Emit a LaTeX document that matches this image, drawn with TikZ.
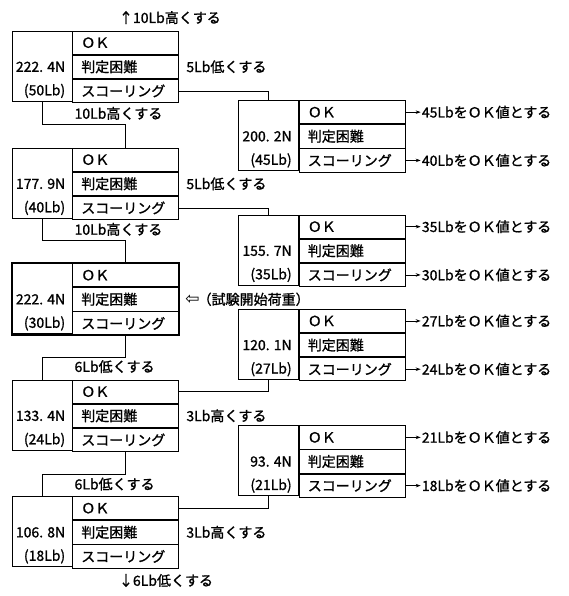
\documentclass[tikz,border=0pt]{standalone}
\usepackage{fontspec}
\setmainfont{Noto Sans CJK JP}[FakeBold=1.2]
\newfontfamily\arrowfont{DejaVu Sans}
\usetikzlibrary{positioning,calc,arrows.meta}

\tikzset{
	lcell/.style={draw, line width=0.8pt, minimum width=60pt, minimum height=70pt, inner sep=0pt},
	rcell/.style={draw, line width=0.8pt, anchor=north west, minimum width=106pt, minimum height=23.33pt,
		text width=89pt, inner xsep=8.5pt, inner ysep=0pt, align=left},
	wt/.style={inner sep=0pt, anchor=west},
	wire/.style={line width=0.8pt},
	okarrow/.style={line width=0.8pt, shorten >=1pt, -{Stealth[length=5pt,width=3.5pt]}}
}

% one load box: name, x, y, newton, pound
\newcommand{\loadbox}[5]{%
	\node[lcell] (#1) at (#2,#3) {};
	\node[rcell] (#1ok) at (#1.north east) {ＯＫ};
	\node[rcell, below=0pt of #1ok] (#1hd) {判定困難};
	\node[rcell, below=0pt of #1hd] (#1sc) {スコーリング};
	\node[anchor=east, inner sep=0pt] (#1n) at ([xshift=-7pt]#1hd.west) {#4};
	\node[anchor=east, inner sep=0pt] (#1l) at ([xshift=-7pt]#1sc.west) {#5};
}

\begin{document}
\begin{tikzpicture}[x=1pt, y=-1pt, font=\fontsize{14}{16}\selectfont]

		\useasboundingbox (0,0) rectangle (568,596);

		% Left column
		\loadbox{b50}{42}{66}{222. 4N}{(50Lb)}
		\loadbox{b40}{42}{183}{177. 9N}{(40Lb)}
		\loadbox{b30}{42}{298.5}{222. 4N}{(30Lb)}
		\loadbox{b24}{42}{415}{133. 4N}{(24Lb)}
		\loadbox{b18}{42}{531.5}{106. 8N}{(18Lb)}

		% Right column
		\loadbox{b45}{268.5}{135.5}{200. 2N}{(45Lb)}
		\loadbox{b35}{268.5}{250}{155. 7N}{(35Lb)}
		\loadbox{b27}{268.5}{344.3}{120. 1N}{(27Lb)}
		\loadbox{b21}{268.5}{460.7}{93. 4N}{(21Lb)}

		% Starting load
		\draw[line width=2pt] (b30.north west) rectangle (b30sc.south east);

		% Steps down the left column
		\draw[wire] (b50.south) |- ($(b50.south)!.5!(b40ok.north)$) -| (b40ok.north);
		\draw[wire] (b40.south) |- ($(b40.south)!.5!(b30ok.north)$) -| (b30ok.north);
		\draw[wire] (b30sc.south) |- ($(b30sc.south)!.5!(b24.north)$) -| (b24.north);
		\draw[wire] (b24sc.south) |- ($(b24sc.south)!.5!(b18.north)$) -| (b18.north);

		% Branches to the right column
		\draw[wire] (b50sc.east) -| (b45.north);
		\draw[wire] (b40sc.east) -| (b35.north);
		\draw[wire] (b24ok.east) -| (b27.south);
		\draw[wire] (b18ok.east) -| (b21.south);

		% Step labels
		\node[wt] (up) at ([shift={(-7,-13)}]b50ok.north) {↑10Lb高くする};
		\node[wt] (l10a) at ([shift={(2,12)}]b50.south east) {10Lb高くする};
		\node[wt] (l10b) at ([shift={(2,11)}]b40.south east) {10Lb高くする};
		\node[wt] (l6a) at ([shift={(2,-13)}]b24.north east) {6Lb低くする};
		\node[wt] (l6b) at ([shift={(2,-12)}]b18.north east) {6Lb低くする};
		\node[wt] (down) at ([shift={(-7,12)}]b18sc.south) {↓6Lb低くする};
		\node[wt] (l5a) at ([xshift=7pt]b50hd.east) {5Lb低くする};
		\node[wt] (l5b) at ([xshift=7pt]b40hd.east) {5Lb低くする};
		\node[wt] (start) at ([xshift=6pt]b30hd.east) {{\arrowfont\fontsize{17}{17}\selectfont ⇦}\kern-2pt（試験開始荷重）};
		\node[wt] (l3a) at ([xshift=7pt]b24hd.east) {3Lb高くする};
		\node[wt] (l3b) at ([xshift=7pt]b18hd.east) {3Lb高くする};

		% Results
		\node[wt] (r45) at ([xshift=16pt]b45ok.east) {45LbをＯＫ値とする};
		\node[wt] (r40) at ([xshift=16pt]b45sc.east) {40LbをＯＫ値とする};
		\node[wt] (r35) at ([xshift=16pt]b35ok.east) {35LbをＯＫ値とする};
		\node[wt] (r30) at ([xshift=16pt]b35sc.east) {30LbをＯＫ値とする};
		\node[wt] (r27) at ([xshift=16pt]b27ok.east) {27LbをＯＫ値とする};
		\node[wt] (r24) at ([xshift=16pt]b27sc.east) {24LbをＯＫ値とする};
		\node[wt] (r21) at ([xshift=16pt]b21ok.east) {21LbをＯＫ値とする};
		\node[wt] (r18) at ([xshift=16pt]b21sc.east) {18LbをＯＫ値とする};
		\foreach \a/\b in {b45ok/r45, b45sc/r40, b35ok/r35, b35sc/r30, b27ok/r27, b27sc/r24, b21ok/r21, b21sc/r18}
			\draw[okarrow] (\a.east) -- (\b.west);

	\end{tikzpicture}
\end{document}
